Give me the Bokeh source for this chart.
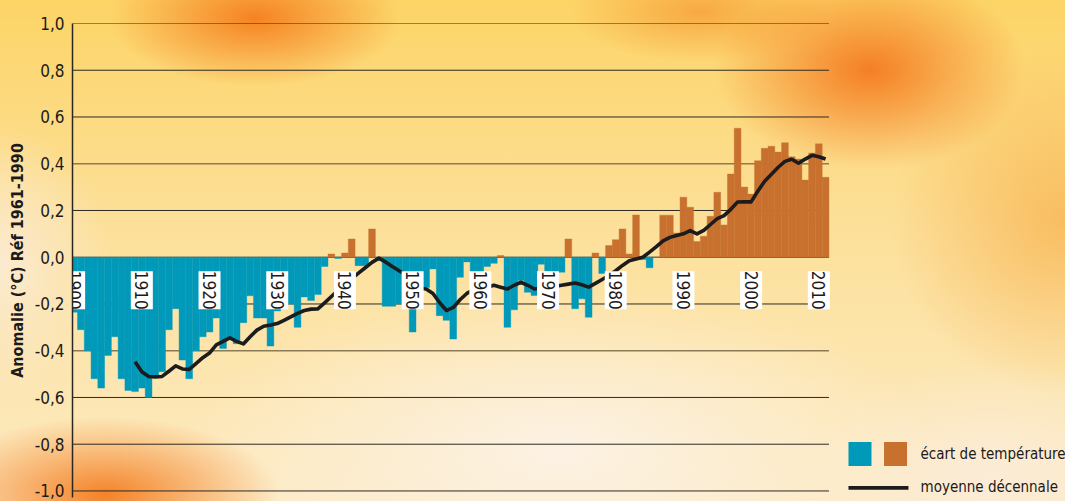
import math
from bokeh.plotting import figure
from bokeh.models import FixedTicker, Range1d
from bokeh.core.properties import value
from bokeh.embed import file_html
from bokeh.resources import INLINE

# ---------------- data ----------------
years = list(range(1900, 2012))
anomaly = [
    -0.235, -0.31, -0.40, -0.52, -0.56, -0.42, -0.34, -0.52, -0.57, -0.575,   # 1900-1909
    -0.56, -0.60, -0.51, -0.49, -0.31, -0.22, -0.44, -0.52, -0.40, -0.34,     # 1910-1919
    -0.32, -0.26, -0.39, -0.35, -0.37, -0.28, -0.165, -0.26, -0.26, -0.38,    # 1920-1929
    -0.23, -0.21, -0.20, -0.30, -0.17, -0.185, -0.16, -0.04, 0.014, -0.005,   # 1930-1939
    0.018, 0.078, -0.036, -0.036, 0.121, -0.015, -0.21, -0.21, -0.20, -0.18,  # 1940-1949
    -0.32, -0.12, -0.13, -0.05, -0.25, -0.27, -0.35, -0.086, -0.02, -0.07,    # 1950-1959
    -0.08, -0.04, -0.026, 0.007, -0.30, -0.225, -0.10, -0.15, -0.164, -0.03,  # 1960-1969
    -0.06, -0.17, -0.064, 0.078, -0.22, -0.178, -0.257, 0.018, -0.07, 0.05,   # 1970-1979
    0.075, 0.121, 0.014, 0.181, -0.01, -0.045, 0.0, 0.18, 0.18, 0.104,        # 1980-1989
    0.257, 0.214, 0.067, 0.09, 0.175, 0.278, 0.138, 0.356, 0.552, 0.30,       # 1990-1999
    0.27, 0.413, 0.466, 0.475, 0.45, 0.49, 0.43, 0.42, 0.33, 0.446,           # 2000-2009
    0.485, 0.342,                                                             # 2010-2011
]

line_years = list(range(1909, 2012))
decadal = [
    -0.447,                                                                    # 1909
    -0.49, -0.51, -0.512, -0.51, -0.488, -0.465, -0.478, -0.48, -0.455, -0.43,  # 1910-1919
    -0.41, -0.375, -0.36, -0.345, -0.36, -0.371, -0.34, -0.312, -0.295, -0.29,  # 1920-1929
    -0.284, -0.27, -0.255, -0.24, -0.228, -0.222, -0.221, -0.195, -0.168, -0.142,  # 1930-1939
    -0.118, -0.092, -0.068, -0.045, -0.022, -0.004, -0.02, -0.04, -0.058, -0.075,  # 1940-1949
    -0.105, -0.132, -0.136, -0.155, -0.195, -0.228, -0.215, -0.182, -0.155, -0.14,  # 1950-1959
    -0.13, -0.128, -0.12, -0.128, -0.136, -0.12, -0.107, -0.12, -0.136, -0.132,  # 1960-1969
    -0.128, -0.125, -0.12, -0.115, -0.11, -0.118, -0.128, -0.112, -0.095, -0.078,  # 1970-1979
    -0.058, -0.035, -0.015, -0.008, 0.0, 0.022, 0.045, 0.07, 0.085, 0.093,     # 1980-1989
    0.10, 0.114, 0.10, 0.115, 0.14, 0.165, 0.178, 0.205, 0.236, 0.237,         # 1990-1999
    0.237, 0.283, 0.325, 0.355, 0.385, 0.41, 0.419, 0.402, 0.42, 0.436,        # 2000-2009
    0.43, 0.42,                                                                # 2010-2011
]

y_ticks = [-1, -0.8, -0.6, -0.4, -0.2, 0, 0.2, 0.4, 0.6, 0.8, 1]
y_tick_labels = ["-1,0", "-0,8", "-0,6", "-0,4", "-0,2", "0,0", "0,2", "0,4", "0,6", "0,8", "1,0"]
label_years = list(range(1900, 2011, 10))
y_title = "Anomalie (°C) Réf 1961-1990"
legend_labels = ["écart de température", "moyenne décennale"]

assert len(years) == len(anomaly)
assert len(line_years) == len(decadal)

# ---------------- style ----------------
CYAN = "#0199BA"
ORANGE = "#C8712F"
INK = "#1d1a1a"
FONT = "Liberation Sans Narrow, DejaVu Sans Condensed, sans-serif"

W, H = 1065, 501
X0 = 1899.76
X1 = X0 + (W - 72) / 6.77
p = figure(width=W, height=H, output_backend="svg", toolbar_location=None,
           x_range=Range1d(X0, X1), y_range=Range1d(-1.028, 1.0),
           x_axis_type=None,
           min_border_left=72, min_border_right=0, min_border_top=23, min_border_bottom=4)
p.outline_line_color = None
p.background_fill_color = None
p.border_fill_color = None
p.grid.visible = False
p.styles = {
    "background": (
        "radial-gradient(ellipse 145px 68px at 255px 18px, rgba(245,128,32,0.97), rgba(245,128,32,0) 100%),"
        "radial-gradient(ellipse 155px 100px at 870px 70px, rgba(244,122,32,0.95), rgba(244,122,32,0) 100%),"
        "radial-gradient(ellipse 175px 78px at 105px 495px, rgba(244,125,32,0.95), rgba(244,125,32,0) 100%),"
        "radial-gradient(ellipse 130px 50px at 700px 12px, rgba(246,150,50,0.7), rgba(246,150,50,0) 100%),"
        "radial-gradient(ellipse 175px 175px at 1065px 220px, rgba(247,170,65,0.65), rgba(247,170,65,0) 100%),"
        "radial-gradient(ellipse 380px 160px at 560px 450px, rgba(252,242,228,1), rgba(252,242,228,0) 100%),"
        "radial-gradient(ellipse 190px 120px at 990px 480px, rgba(251,236,216,1), rgba(251,236,216,0) 100%),"
        "radial-gradient(ellipse 110px 140px at 0px 265px, rgba(251,234,208,1), rgba(251,234,208,0) 100%),"
        "linear-gradient(180deg, #FCD466 0%, #FCE09A 45%, #FCEAC2 100%)"
    )
}

# y axis
yax = p.yaxis[0]
yax.ticker = FixedTicker(ticks=y_ticks)
yax.major_label_overrides = dict(zip(y_ticks, y_tick_labels))
yax.minor_tick_line_color = None
yax.major_tick_in = 0
yax.major_tick_out = 0
yax.axis_line_color = "#2a2622"
yax.axis_line_width = 1.5
yax.major_label_text_font = FONT
yax.major_label_text_font_size = "17px"
yax.major_label_text_color = INK
yax.major_label_standoff = 8
yax.axis_label = y_title
yax.axis_label_text_font = FONT
yax.axis_label_text_font_size = "16px"
yax.axis_label_text_font_style = "bold"
yax.axis_label_text_color = INK
yax.axis_label_standoff = 5

# grid lines (limited to the data part of the frame)
grid_colors = ["#2d2a22" if abs(t) != 0.4 else "#8a7a55" for t in y_ticks]
grid_widths = [1.0 if abs(t) != 0.4 else 1.6 for t in y_ticks]
p.segment(x0=[X0] * len(y_ticks), x1=[years[-1] + 0.5] * len(y_ticks),
          y0=y_ticks, y1=y_ticks, line_color=grid_colors, line_width=grid_widths)

# bars
neg_x = [y for y, v in zip(years, anomaly) if v < 0]
neg_v = [v for v in anomaly if v < 0]
pos_x = [y for y, v in zip(years, anomaly) if v >= 0]
pos_v = [v for v in anomaly if v >= 0]
p.vbar(x=neg_x, top=0, bottom=neg_v, width=1.0, fill_color=CYAN, line_color=CYAN, line_width=0.4)
p.vbar(x=pos_x, top=pos_v, bottom=0, width=1.0, fill_color=ORANGE, line_color=ORANGE, line_width=0.4)

# decadal mean
p.line(line_years, decadal, line_color="#1c1c1c", line_width=3.6, line_join="round")

# year labels in white boxes
lab_y = [-0.141] * len(label_years)
p.rect(x=label_years, y=lab_y, width=22, height=38,
       width_units="screen", height_units="screen",
       fill_color="white", line_color=None)
p.text(x=label_years, y=lab_y, text=[str(y) for y in label_years], angle=-math.pi / 2,
       text_align="center", text_baseline="middle",
       text_font=value(FONT), text_font_size="17px", text_color=INK)

# legend (drawn in the empty right part of the frame)
p.rect(x=[2016.08, 2021.33], y=[-0.842, -0.842], width=23, height=24,
       width_units="screen", height_units="screen",
       fill_color=[CYAN, ORANGE], line_color=None)
p.line([2014.38, 2023.24], [-0.987, -0.987], line_color="#1c1c1c", line_width=3.6)
p.text(x=[2025.02, 2025.02], y=[-0.842, -0.984], text=legend_labels,
       text_font=value(FONT), text_font_size="15px", text_color=INK,
       text_align="left", text_baseline="middle")

open("out.html", "w").write(file_html(p, INLINE))
